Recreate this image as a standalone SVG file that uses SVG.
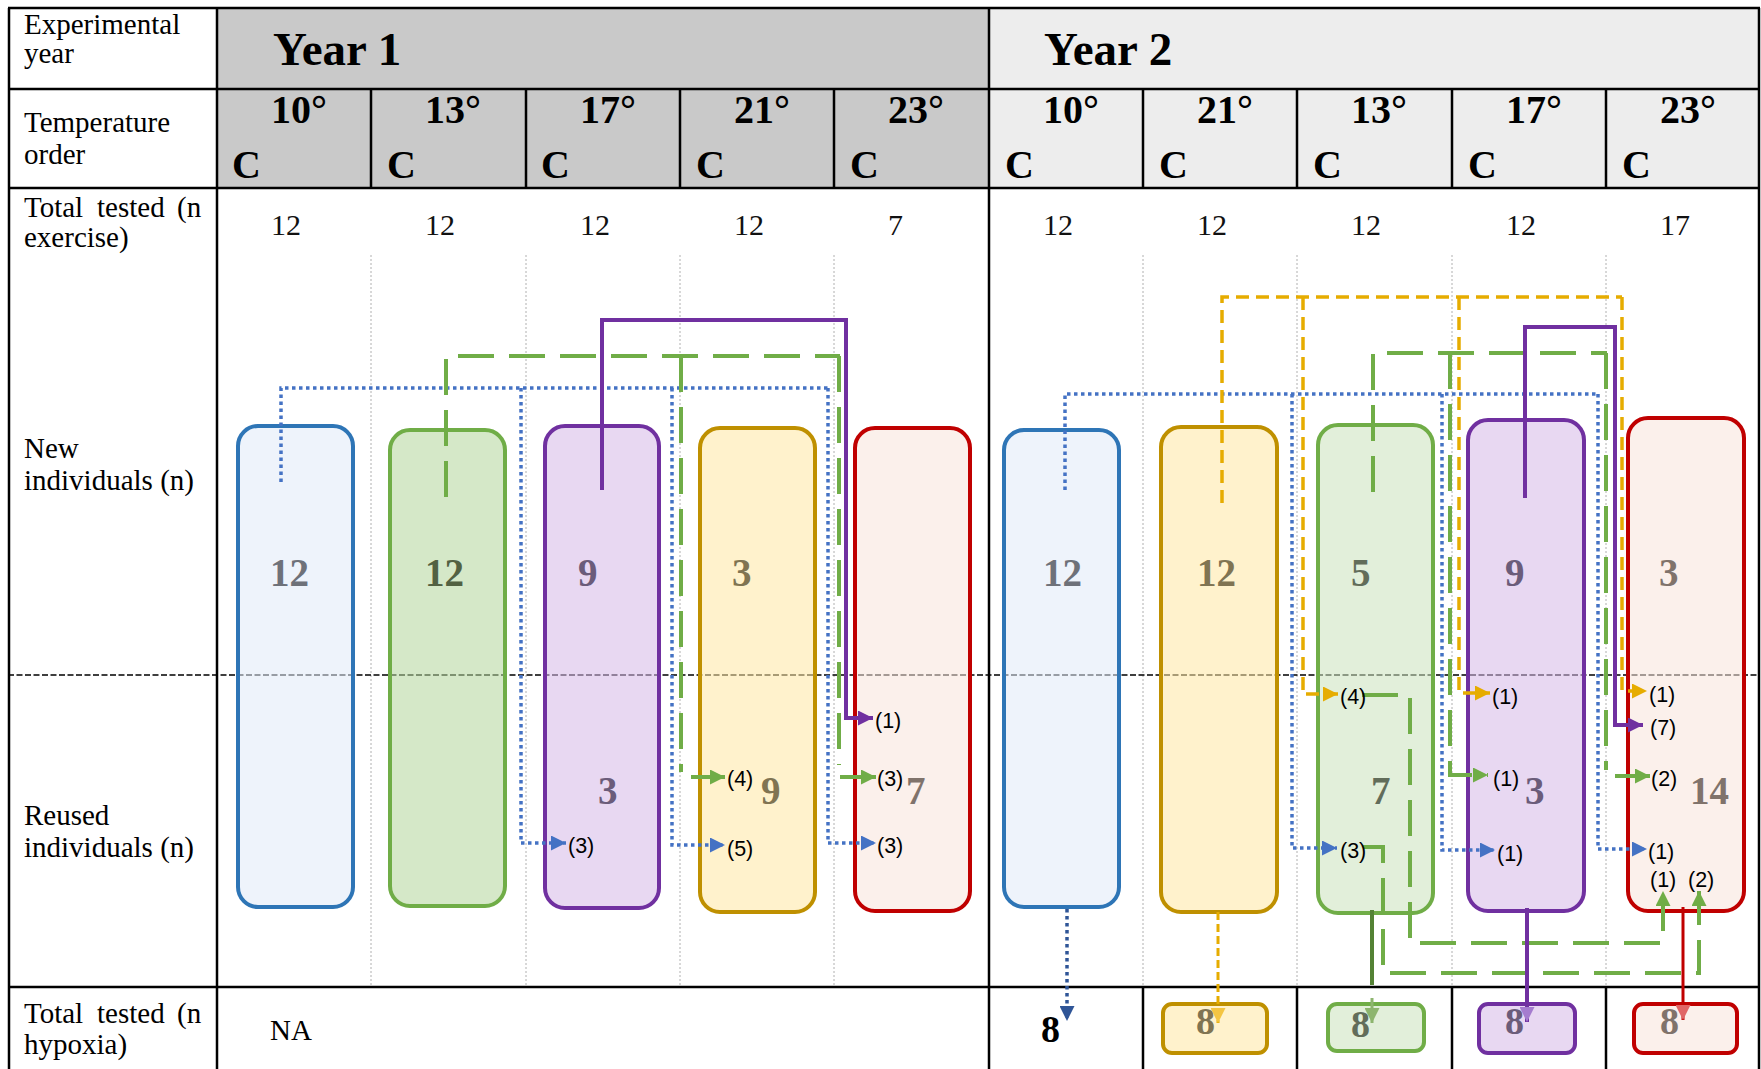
<svg xmlns="http://www.w3.org/2000/svg" width="1761" height="1069" viewBox="0 0 1761 1069">
<style>
.lbl{font-family:"Liberation Serif","Times New Roman",serif;font-size:29px;fill:#000}
.num{font-family:"Liberation Serif","Times New Roman",serif;font-size:30px;fill:#111}
.hdr{font-family:"Liberation Serif","Times New Roman",serif;font-weight:bold;font-size:40px;fill:#000}
.yr{font-family:"Liberation Serif","Times New Roman",serif;font-weight:bold;font-size:47px;fill:#000}
.big{font-family:"Liberation Serif","Times New Roman",serif;font-weight:bold;font-size:39px}
.sm8{font-family:"Liberation Serif","Times New Roman",serif;font-weight:bold;font-size:38px}
.cnt{font-family:"Liberation Sans",Arial,sans-serif;font-size:21.5px;fill:#000}
.grid{stroke:#000;stroke-width:2.5;fill:none}
.guide{stroke:#b0b0b0;stroke-width:1;stroke-dasharray:2 2;fill:none}
.sep{stroke:#000;stroke-width:1.6;stroke-dasharray:6 2.5;fill:none}
.box{stroke-width:4}
.bx-b{stroke:#2e75b6;fill:#e0e9f8;fill-opacity:.55}
.bx-g1{stroke:#70ad47;fill:#b3d59b;fill-opacity:.55}
.bx-g2{stroke:#70ad47;fill:#cae2bc;fill-opacity:.55}
.bx-p{stroke:#7030a0;fill:#d5b8e7;fill-opacity:.55}
.bx-y{stroke:#bf9000;fill:#ffe7a2;fill-opacity:.55}
.bx-r{stroke:#c00000;fill:#f8e4db;fill-opacity:.55}
.cb{stroke:#4472c4;stroke-width:3.5;stroke-dasharray:3.5 3.5;fill:none}
.cbd{stroke:#2f5597;stroke-width:3.5;stroke-dasharray:3.5 3.5;fill:none}
.cg{stroke:#70ad47;stroke-width:4;stroke-dasharray:36 15;fill:none}
.ga{stroke:#70ad47;stroke-width:4;fill:none}
.cp{stroke:#7030a0;stroke-width:4;fill:none}
.cy{stroke:#e6ac00;stroke-width:3.5;stroke-dasharray:13 7;fill:none}
.cyd{stroke:#e6ac00;stroke-width:3;stroke-dasharray:8 4;fill:none}
</style>
<defs>
<marker id="mb" markerUnits="userSpaceOnUse" markerWidth="15" markerHeight="15" refX="15" refY="7.5" orient="auto"><path d="M0,0 L15,7.5 L0,15 z" fill="#4472c4"/></marker>
<marker id="mbd" markerUnits="userSpaceOnUse" markerWidth="15" markerHeight="15" refX="15" refY="7.5" orient="auto"><path d="M0,0 L15,7.5 L0,15 z" fill="#2f5597"/></marker>
<marker id="mg" markerUnits="userSpaceOnUse" markerWidth="15" markerHeight="15" refX="15" refY="7.5" orient="auto"><path d="M0,0 L15,7.5 L0,15 z" fill="#70ad47"/></marker>
<marker id="mgl" markerUnits="userSpaceOnUse" markerWidth="15" markerHeight="15" refX="15" refY="7.5" orient="auto"><path d="M0,0 L15,7.5 L0,15 z" fill="#8db56e"/></marker>
<marker id="mp" markerUnits="userSpaceOnUse" markerWidth="15" markerHeight="15" refX="15" refY="7.5" orient="auto"><path d="M0,0 L15,7.5 L0,15 z" fill="#7030a0"/></marker>
<marker id="mpl" markerUnits="userSpaceOnUse" markerWidth="15" markerHeight="15" refX="15" refY="7.5" orient="auto"><path d="M0,0 L15,7.5 L0,15 z" fill="#a57ccf"/></marker>
<marker id="my" markerUnits="userSpaceOnUse" markerWidth="15" markerHeight="15" refX="15" refY="7.5" orient="auto"><path d="M0,0 L15,7.5 L0,15 z" fill="#e6ac00"/></marker>
<marker id="myl" markerUnits="userSpaceOnUse" markerWidth="15" markerHeight="15" refX="15" refY="7.5" orient="auto"><path d="M0,0 L15,7.5 L0,15 z" fill="#f4c542"/></marker>
<marker id="mrl" markerUnits="userSpaceOnUse" markerWidth="15" markerHeight="15" refX="15" refY="7.5" orient="auto"><path d="M0,0 L15,7.5 L0,15 z" fill="#e06666"/></marker>
</defs>
<rect width="1761" height="1069" fill="#fff"/>

<g id="table">
<rect x="217" y="8" width="772" height="180" fill="#c9c9c9"/>
<rect x="989" y="8" width="771" height="180" fill="#ededed"/>
<g class="guide">
<path d="M371,255 V987 M526,255 V987 M680,255 V987 M834,255 V987 M1143,255 V987 M1297,255 V987 M1452,255 V987 M1606,255 V987"/>
</g>
<path class="sep" d="M8,675 H1760"/>
<g class="grid">
<path d="M8,8 H1760 M9,8 V1069 M1759,8 V1069 M8,89 H1760 M8,188 H1760 M8,987 H1760 M217,8 V1069 M989,8 V1069"/>
<path d="M371,89 V188 M526,89 V188 M680,89 V188 M834,89 V188 M1143,89 V188 M1297,89 V188 M1452,89 V188 M1606,89 V188"/>
<path d="M1143,987 V1069 M1297,987 V1069 M1452,987 V1069 M1606,987 V1069"/>
</g>
</g>

<g id="row-labels">
<text class="lbl" x="24" y="34">Experimental</text>
<text class="lbl" x="24" y="63">year</text>
<text class="lbl" x="24" y="132">Temperature</text>
<text class="lbl" x="24" y="164">order</text>
<text class="lbl" y="217"><tspan x="24">Total</tspan><tspan x="97">tested</tspan><tspan x="177">(n</tspan></text>
<text class="lbl" x="24" y="247">exercise)</text>
<text class="lbl" x="24" y="458">New</text>
<text class="lbl" x="24" y="490">individuals (n)</text>
<text class="lbl" x="24" y="825">Reused</text>
<text class="lbl" x="24" y="857">individuals (n)</text>
<text class="lbl" y="1023"><tspan x="24">Total</tspan><tspan x="97">tested</tspan><tspan x="177">(n</tspan></text>
<text class="lbl" x="24" y="1054">hypoxia)</text>
</g>

<g id="headers">
<text class="yr" x="273" y="65">Year 1</text>
<text class="yr" x="1044" y="65">Year 2</text>
<text class="hdr" x="271" y="123">10°</text><text class="hdr" x="232" y="178">C</text>
<text class="hdr" x="425" y="123">13°</text><text class="hdr" x="387" y="178">C</text>
<text class="hdr" x="580" y="123">17°</text><text class="hdr" x="541" y="178">C</text>
<text class="hdr" x="734" y="123">21°</text><text class="hdr" x="696" y="178">C</text>
<text class="hdr" x="888" y="123">23°</text><text class="hdr" x="850" y="178">C</text>
<text class="hdr" x="1043" y="123">10°</text><text class="hdr" x="1005" y="178">C</text>
<text class="hdr" x="1197" y="123">21°</text><text class="hdr" x="1159" y="178">C</text>
<text class="hdr" x="1351" y="123">13°</text><text class="hdr" x="1313" y="178">C</text>
<text class="hdr" x="1506" y="123">17°</text><text class="hdr" x="1468" y="178">C</text>
<text class="hdr" x="1660" y="123">23°</text><text class="hdr" x="1622" y="178">C</text>
</g>

<g id="totals-exercise">
<text class="num" x="271" y="235">12</text>
<text class="num" x="425" y="235">12</text>
<text class="num" x="580" y="235">12</text>
<text class="num" x="734" y="235">12</text>
<text class="num" x="888" y="235">7</text>
<text class="num" x="1043" y="235">12</text>
<text class="num" x="1197" y="235">12</text>
<text class="num" x="1351" y="235">12</text>
<text class="num" x="1506" y="235">12</text>
<text class="num" x="1660" y="235">17</text>
</g>

<g id="y1-10C">
<rect class="box bx-b" x="238" y="426" width="115" height="481" rx="20"/>
<text class="big" x="270" y="586" fill="#6e7179">12</text>
</g>
<g id="y1-13C">
<rect class="box bx-g1" x="390" y="430" width="115" height="476" rx="20"/>
<text class="big" x="425" y="586" fill="#526142">12</text>
</g>
<g id="y1-17C">
<rect class="box bx-p" x="545" y="426" width="114" height="482" rx="20"/>
<text class="big" x="578" y="586" fill="#6b5c7a">9</text>
<text class="big" x="598" y="804" fill="#6b5c7a">3</text>
</g>
<g id="y1-21C">
<rect class="box bx-y" x="700" y="428" width="115" height="484" rx="20"/>
<text class="big" x="732" y="586" fill="#807452">3</text>
<text class="big" x="761" y="804" fill="#807452">9</text>
</g>
<g id="y1-23C">
<rect class="box bx-r" x="855" y="428" width="115" height="483" rx="20"/>
<text class="big" x="906" y="804" fill="#80736b">7</text>
</g>

<g id="y2-10C">
<rect class="box bx-b" x="1004" y="430" width="115" height="477" rx="20"/>
<text class="big" x="1043" y="586" fill="#6e7179">12</text>
</g>
<g id="y2-21C">
<rect class="box bx-y" x="1161" y="427" width="116" height="485" rx="20"/>
<text class="big" x="1197" y="586" fill="#807452">12</text>
</g>
<g id="y2-13C">
<rect class="box bx-g2" x="1318" y="425" width="115" height="488" rx="20"/>
<text class="big" x="1351" y="586" fill="#626d5a">5</text>
<text class="big" x="1371" y="804" fill="#626d5a">7</text>
</g>
<g id="y2-17C">
<rect class="box bx-p" x="1468" y="420" width="116" height="491" rx="20"/>
<text class="big" x="1505" y="586" fill="#6b5c7a">9</text>
<text class="big" x="1525" y="804" fill="#6b5c7a">3</text>
</g>
<g id="y2-23C">
<rect class="box bx-r" x="1628" y="418" width="116" height="493" rx="20"/>
<text class="big" x="1659" y="586" fill="#80736b">3</text>
<text class="big" x="1690" y="804" fill="#80736b">14</text>
</g>

<g id="hypoxia">
<text class="lbl" x="270" y="1040">NA</text>
<text class="sm8" x="1041" y="1042" fill="#000">8</text>
<g id="hyp-21C"><rect x="1163" y="1004" width="104" height="49" rx="9" fill="#fff2cc" stroke="#bf9000" stroke-width="4"/><text class="sm8" x="1196" y="1034" fill="#807452">8</text></g>
<g id="hyp-13C"><rect x="1328" y="1004" width="96" height="47" rx="9" fill="#e2efda" stroke="#70ad47" stroke-width="4"/><text class="sm8" x="1351" y="1037" fill="#626d5a">8</text></g>
<g id="hyp-17C"><rect x="1479" y="1004" width="96" height="49" rx="9" fill="#e8d8f2" stroke="#7030a0" stroke-width="4"/><text class="sm8" x="1505" y="1034" fill="#6b5c7a">8</text></g>
<g id="hyp-23C"><rect x="1634" y="1004" width="103" height="49" rx="9" fill="#fbf0eb" stroke="#c00000" stroke-width="4"/><text class="sm8" x="1660" y="1034" fill="#80736b">8</text></g>
</g>

<g id="connectors">
<path class="cb" d="M281,482 V388 H828"/>
<path class="cb" d="M521,388 V843 H566" marker-end="url(#mb)"/>
<path class="cb" d="M672,388 V845 H725" marker-end="url(#mb)"/>
<path class="cb" d="M828,388 V843 H876" marker-end="url(#mb)"/>
<path class="cg" d="M446,497 V356 H840"/>
<path class="cg" d="M681,356 V772"/>
<path class="ga" d="M691,777 H725" marker-end="url(#mg)"/>
<path class="cg" d="M839,356 V765"/>
<path class="ga" d="M840,777 H876" marker-end="url(#mg)"/>
<path class="cp" d="M602,490 V320 H846 V718 H873" marker-end="url(#mp)"/>
<path class="cb" d="M1065,490 V394 H1598"/>
<path class="cb" d="M1292,394 V848 H1337" marker-end="url(#mb)"/>
<path class="cb" d="M1442,394 V850 H1495" marker-end="url(#mb)"/>
<path class="cb" d="M1598,394 V849 H1647" marker-end="url(#mb)"/>
<path class="cbd" d="M1067,909 V1021" marker-end="url(#mbd)"/>
<path class="cy" d="M1222,503 V297 H1622"/>
<path class="cy" d="M1303,297 V694 H1338" marker-end="url(#my)"/>
<path class="cy" d="M1459,297 V693 H1490" marker-end="url(#my)"/>
<path class="cy" d="M1622,297 V691 H1647" marker-end="url(#my)"/>
<path class="cyd" d="M1218,912 V1023" marker-end="url(#myl)"/>
<path class="cg" d="M1373,492 V353 H1607"/>
<path class="cg" d="M1450,353 V775 H1488" marker-end="url(#mg)"/>
<path class="cg" d="M1606,353 V770"/>
<path class="ga" d="M1615,776 H1650" marker-end="url(#mg)"/>
<path class="cg" d="M1362,695 H1410 V943 H1663 V891" marker-end="url(#mg)"/>
<path class="cg" d="M1363,847 H1383 V973 H1699 V891" marker-end="url(#mg)"/>
<path d="M1372,910 V985" stroke="#548235" stroke-width="4" fill="none"/>
<path d="M1372,998 V1023" stroke="#8db56e" stroke-width="3" fill="none" marker-end="url(#mgl)"/>
<path class="cp" d="M1525,498 V327 H1615 V725 H1643" marker-end="url(#mp)"/>
<path class="cp" d="M1527,908 V1022" marker-end="url(#mpl)"/>
<path d="M1683,907 V1020" stroke="#c00000" stroke-width="3" fill="none" marker-end="url(#mrl)"/>
</g>

<g id="connector-labels">
<text class="cnt" x="875" y="728">(1)</text>
<text class="cnt" x="727" y="786">(4)</text>
<text class="cnt" x="877" y="786">(3)</text>
<text class="cnt" x="568" y="853">(3)</text>
<text class="cnt" x="727" y="856">(5)</text>
<text class="cnt" x="877" y="853">(3)</text>
<text class="cnt" x="1340" y="704">(4)</text>
<text class="cnt" x="1492" y="704">(1)</text>
<text class="cnt" x="1649" y="702">(1)</text>
<text class="cnt" x="1650" y="735">(7)</text>
<text class="cnt" x="1493" y="786">(1)</text>
<text class="cnt" x="1651" y="786">(2)</text>
<text class="cnt" x="1340" y="858">(3)</text>
<text class="cnt" x="1497" y="861">(1)</text>
<text class="cnt" x="1648" y="859">(1)</text>
<text class="cnt" x="1650" y="887">(1)</text>
<text class="cnt" x="1688" y="887">(2)</text>
</g>
</svg>
